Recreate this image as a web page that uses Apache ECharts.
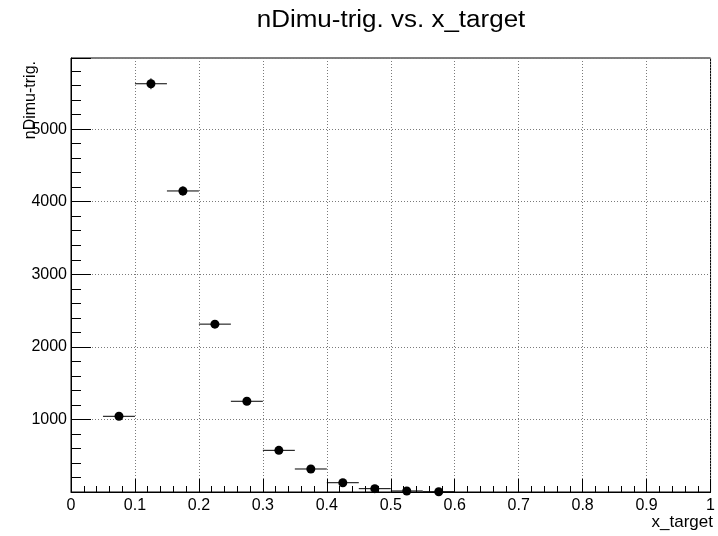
<!DOCTYPE html>
<html>
<head>
<meta charset="utf-8">
<title>nDimu-trig. vs. x_target</title>
<script src="https://cdn.jsdelivr.net/npm/echarts@6.0.0/dist/echarts.min.js"></script>
<style>
  html, body { margin: 0; padding: 0; background: #fff; }
  #chart { width: 718px; height: 536px; }
</style>
</head>
<body>
<div id="chart"></div>
<script>
// Bin centres of x_target and the half bin width used for horizontal error bars
const binCenters = [0.075, 0.125, 0.175, 0.225, 0.275, 0.325, 0.375, 0.425, 0.475, 0.525, 0.575];
const binHalfWidths = [0.025, 0.025, 0.025, 0.025, 0.025, 0.025, 0.025, 0.025, 0.025, 0.025, 0.025];
// Dimuon trigger counts per bin and their statistical errors
const counts = [1043, 5625, 4148, 2313, 1250, 574, 317, 128, 46, 14, 3];
const countErrors = [32, 75, 64, 48, 35, 24, 18, 11, 7, 4, 2];

const chartTitle = 'nDimu-trig. vs. x_target';
const xTitle = 'x_target';
const yTitle = 'nDimu-trig.';

const points = binCenters.map((x, i) => [x, counts[i], binHalfWidths[i], countErrors[i]]);

const FONT = '"Liberation Sans", Arial, Helvetica, sans-serif';
const gridLine = { show: true, lineStyle: { color: '#7a7a7a', width: 1, type: [1, 2] } };

const chart = echarts.init(document.getElementById('chart'), null, { renderer: 'canvas' });

chart.setOption({
  animation: false,
  backgroundColor: '#ffffff',
  grid: {
    left: 71, right: 6, top: 58, bottom: 44,
    show: true, borderColor: '#000', borderWidth: 1, backgroundColor: 'transparent'
  },
  xAxis: {
    type: 'value',
    min: 0, max: 1, interval: 0.1,
    axisLine: { show: true, onZero: false, lineStyle: { color: '#000', width: 1 } },
    axisTick: { show: true, inside: true, length: 13, lineStyle: { color: '#000', width: 1 } },
    minorTick: { show: true, splitNumber: 5, length: 6, lineStyle: { color: '#000', width: 1 } },
    splitLine: gridLine,
    axisLabel: {
      show: true, margin: 6, color: '#000', fontFamily: FONT, fontSize: 16,
      showMinLabel: true, showMaxLabel: true, hideOverlap: false
    }
  },
  yAxis: {
    type: 'value',
    min: 0, max: 5980, interval: 1000,
    axisLine: { show: true, onZero: false, lineStyle: { color: '#000', width: 1 } },
    axisTick: { show: true, inside: true, length: 20, lineStyle: { color: '#000', width: 1 } },
    minorTick: { show: true, splitNumber: 5, length: 10, lineStyle: { color: '#000', width: 1 } },
    splitLine: gridLine,
    axisLabel: {
      show: true, margin: 4, color: '#000', fontFamily: FONT, fontSize: 16,
      formatter: v => (v > 0 && v % 1000 === 0) ? String(v) : ''
    }
  },
  graphic: [
    {
      type: 'text', x: 391, y: 21, scaleX: 1.13, silent: true,
      style: { text: chartTitle, fill: '#000', font: '23px ' + FONT, align: 'center', verticalAlign: 'middle' }
    },
    {
      type: 'text', x: 39, y: 61, rotation: Math.PI / 2, silent: true,
      style: { text: yTitle, fill: '#000', font: '16px ' + FONT, align: 'right', verticalAlign: 'bottom' }
    },
    {
      type: 'text', x: 713, y: 531, silent: true,
      style: { text: xTitle, fill: '#000', font: '17px ' + FONT, align: 'right', verticalAlign: 'bottom' }
    }
  ],
  series: [
    {
      type: 'custom',
      clip: false,
      data: points,
      encode: { x: 0, y: 1 },
      renderItem: function (params, api) {
        const x = api.value(0), y = api.value(1), dx = api.value(2), dy = api.value(3);
        const left = api.coord([x - dx, y]);
        const right = api.coord([x + dx, y]);
        const top = api.coord([x, y + dy]);
        const bottom = api.coord([x, y - dy]);
        return {
          type: 'group',
          children: [
            { type: 'line', shape: { x1: left[0], y1: left[1], x2: right[0], y2: right[1] },
              style: { stroke: '#000', lineWidth: 1 } },
            { type: 'line', shape: { x1: top[0], y1: top[1], x2: bottom[0], y2: bottom[1] },
              style: { stroke: '#000', lineWidth: 1 } }
          ]
        };
      },
      z: 3
    },
    {
      type: 'scatter',
      clip: false,
      data: points.map(p => [p[0], p[1]]),
      symbol: 'circle',
      symbolSize: 9,
      itemStyle: { color: '#000', opacity: 1 },
      z: 4
    }
  ]
});
</script>
</body>
</html>
